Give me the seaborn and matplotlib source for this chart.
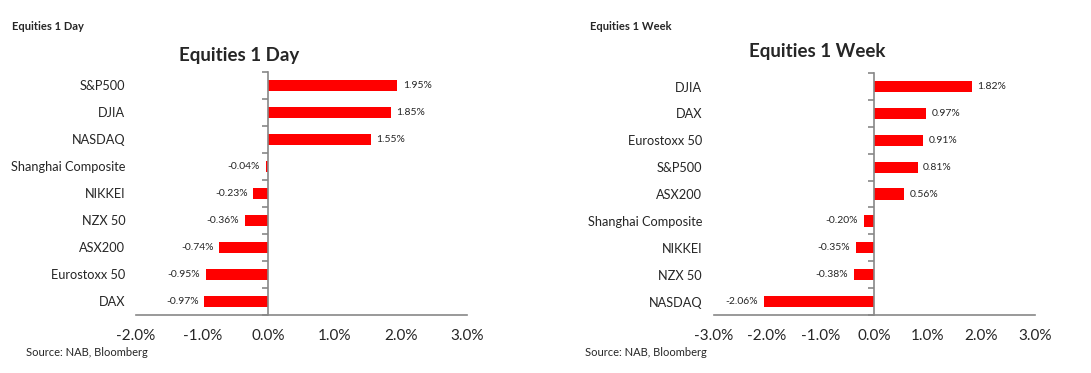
import matplotlib
matplotlib.use("Agg")
import matplotlib.pyplot as plt
import seaborn as sns
import pandas as pd
from matplotlib.ticker import FuncFormatter, FixedLocator

# data (percent)
day_names = ["S&P500", "DJIA", "NASDAQ", "Shanghai Composite", "NIKKEI",
             "NZX 50", "ASX200", "Eurostoxx 50", "DAX"]
day_values = [1.95, 1.85, 1.55, -0.04, -0.23, -0.36, -0.74, -0.95, -0.97]

week_names = ["DJIA", "DAX", "Eurostoxx 50", "S&P500", "ASX200",
              "Shanghai Composite", "NIKKEI", "NZX 50", "NASDAQ"]
week_values = [1.82, 0.97, 0.91, 0.81, 0.56, -0.20, -0.35, -0.38, -2.06]

sns.set_style("white")
plt.rcParams["font.family"] = ["Lato", "DejaVu Sans"]

GREY = "#878787"

fig = plt.figure(figsize=(10.91, 3.73), dpi=100)
ax1 = fig.add_axes([0.1247, 0.1555, 0.3033, 0.6515])
ax2 = fig.add_axes([0.654, 0.1555, 0.2947, 0.6485])


def draw(ax, names, values, xlim, label_pad):
    df = pd.DataFrame({"name": names, "value": values})
    sns.barplot(data=df, x="value", y="name", orient="h", color="#ff0000",
                saturation=1, width=0.42, linewidth=0, ax=ax)
    ax.bar_label(ax.containers[0], labels=[f"{v:.2f}%" for v in values],
                 padding=4, fontsize=7.5)
    ax.set_xlim(*xlim)
    ax.set_ylim(len(names) - 0.5, -0.5)
    ax.set_xticks(range(xlim[0], xlim[1] + 1))
    ax.xaxis.set_major_formatter(FuncFormatter(lambda v, p: f"{v:.1f}%"))
    ax.set_xlabel("")
    ax.set_ylabel("")
    for s in ["top", "right"]:
        ax.spines[s].set_visible(False)
    ax.spines["left"].set_position(("data", 0))
    for s in ["left", "bottom"]:
        ax.spines[s].set_color(GREY)
        ax.spines[s].set_linewidth(1.2)
    ax.tick_params(axis="x", which="major", direction="out", length=5,
                   color=GREY, width=1.2, labelsize=11, pad=5)
    ax.yaxis.set_minor_locator(FixedLocator([i - 0.5 for i in range(len(names) + 1)]))
    ax.tick_params(axis="y", which="minor", direction="out", length=4,
                   color=GREY, width=1.2, left=True)
    ax.tick_params(axis="y", which="major", length=0, labelsize=9.2,
                   pad=label_pad)
    ax.grid(False)


draw(ax1, day_names, day_values, (-2, 3), 103)
draw(ax2, week_names, week_values, (-3, 3), 124)

fig.text(0.011, 0.928, "Equities 1 Day", fontsize=8, fontweight="bold", va="center")
fig.text(0.541, 0.928, "Equities 1 Week", fontsize=8, fontweight="bold", va="center")
fig.text(0.219, 0.85, "Equities 1 Day", fontsize=13.5, fontweight="bold",
         ha="center", va="center")
fig.text(0.749, 0.861, "Equities 1 Week", fontsize=13.5, fontweight="bold",
         ha="center", va="center")
fig.text(0.024, 0.056, "Source: NAB, Bloomberg", fontsize=8, va="center")
fig.text(0.536, 0.054, "Source: NAB, Bloomberg", fontsize=8, va="center")

fig.savefig("out.png", dpi=100)
